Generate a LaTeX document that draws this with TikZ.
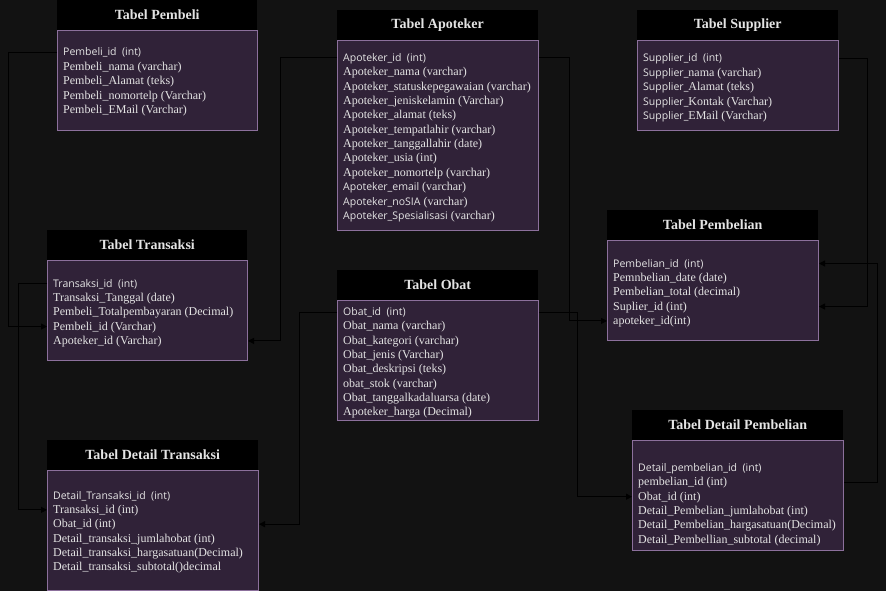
\documentclass[tikz,border=0pt]{standalone}
\usepackage{fontspec}
\setmainfont{Liberation Serif}
\newfontfamily\ssf{Open Sans}
\usetikzlibrary{arrows.meta}
\definecolor{bgc}{RGB}{18,18,18}
\definecolor{bodyfill}{RGB}{48,34,56}
\definecolor{bodyline}{RGB}{140,112,156}
\definecolor{txt}{RGB}{228,228,228}
\newcommand\sansp{\ssf\fontsize{10.5}{14}\selectfont}
\newcommand\serp{\rmfamily\fontsize{12}{14}\selectfont}
\tikzset{
  hdr/.style={fill=black, text=txt, anchor=north west, inner sep=0pt,
    font=\fontsize{14}{16}\selectfont\bfseries, minimum height=30pt},
  tbody/.style={fill=bodyfill, draw=bodyline, line width=1pt, anchor=north west, inner sep=0pt},
  rowtxt/.style={anchor=west, inner sep=0pt, text height=10pt, text depth=3pt,
    text=txt, font=\serp},
  conn/.style={draw=black, line width=1pt, -{Triangle[length=6pt,width=6pt]}}
}
\newcommand\tablerows[4]{%
  \foreach \t [count=\i] in {#4} {\node[rowtxt] (#1\i) at (#2, #3+1.5+\i*14.35-14.35) {\t};}%
}
\begin{document}
\begin{tikzpicture}[x=1pt,y=-1pt]
\useasboundingbox (0,0) rectangle (886,591);
\fill[bgc] (0,0) rectangle (886,591);

% Tabel Pembeli
\node[hdr, minimum width=200pt] (ph) at (57,0) {Tabel Pembeli};
\node[tbody, minimum width=200pt, minimum height=100pt] (pbody) at (57,30) {};
\tablerows{pb}{63}{51}{{\sansp Pembeli\_id\ \ (int)},
  Pembeli\_nama (varchar), Pembeli\_Alamat (teks), Pembeli\_nomortelp (Varchar), Pembeli\_EMail (Varchar)}

% Tabel Apoteker
\node[hdr, minimum width=201pt] (ah) at (337,10) {Tabel Apoteker};
\node[tbody, minimum width=201pt, minimum height=190pt] (abody) at (337,40) {};
\tablerows{ap}{343}{56.5}{{\sansp Apoteker\_id\ \ (int)},
  Apoteker\_nama (varchar), Apoteker\_statuskepegawaian (varchar), Apoteker\_jeniskelamin (Varchar),
  Apoteker\_alamat (teks), Apoteker\_tempatlahir (varchar), Apoteker\_tanggallahir (date),
  Apoteker\_usia (int), Apoteker\_nomortelp (varchar),
  {\sansp Apoteker\_email\serp\ (varchar)}, {\sansp Apoteker\_noSIA\serp\ (varchar)},
  {\sansp Apoteker\_Spesialisasi\serp\ (varchar)}}

% Tabel Supplier
\node[hdr, minimum width=201pt] (sh) at (637,10) {Tabel Supplier};
\node[tbody, minimum width=201pt, minimum height=90pt] (sbody) at (637,40) {};
\tablerows{su}{643}{57}{{\sansp Supplier\_id\ \ (int)},
  {\sansp Supplier\_\serp nama (varchar)}, {\sansp Supplier\_\serp Alamat (teks)},
  {\sansp Supplier\_\serp Kontak (Varchar)}, {\sansp Supplier\_\serp EMail (Varchar)}}

% Tabel Transaksi
\node[hdr, minimum width=200pt] (th) at (47,230) {Tabel Transaksi};
\node[tbody, minimum width=200pt, minimum height=100pt] (trbody) at (47,260) {};
\tablerows{tr}{53}{282}{{\sansp Transaksi\_id\ \ (int)},
  Transaksi\_Tanggal (date), Pembeli\_Totalpembayaran (Decimal), Pembeli\_id (Varchar), Apoteker\_id (Varchar)}

% Tabel Obat
\node[hdr, minimum width=201pt] (oh) at (337,270) {Tabel Obat};
\node[tbody, minimum width=201pt, minimum height=120pt] (obody) at (337,300) {};
\tablerows{ob}{343}{310.5}{{\sansp Obat\_id\ \ (int)},
  Obat\_nama (varchar), Obat\_kategori (varchar), Obat\_jenis (Varchar), Obat\_deskripsi (teks),
  obat\_stok (varchar), Obat\_tanggalkadaluarsa (date), Apoteker\_harga (Decimal)}

% Tabel Pembelian
\node[hdr, minimum width=211pt] (pmh) at (607,210) {Tabel Pembelian};
\node[tbody, minimum width=211pt, minimum height=100pt] (pmbody) at (607,240) {};
\tablerows{pm}{613}{262}{{\sansp Pembelian\_id\ \ (int)},
  Pemnbelian\_date (date), Pembelian\_total (decimal), Suplier\_id (int), apoteker\_id(int)}

% Tabel Detail Pembelian
\node[hdr, minimum width=211pt] (dph) at (632,410) {Tabel Detail Pembelian};
\node[tbody, minimum width=211pt, minimum height=110pt] (dpbody) at (632,440) {};
\tablerows{dp}{638}{466.5}{{\sansp Detail\_pembelian\_id\ \ (int)},
  pembelian\_id (int), Obat\_id (int), Detail\_Pembelian\_jumlahobat (int),
  Detail\_Pembelian\_hargasatuan(Decimal), Detail\_Pembellian\_subtotal (decimal)}

% Tabel Detail Transaksi
\node[hdr, minimum width=211pt] (dth) at (47,440) {Tabel Detail Transaksi};
\node[tbody, minimum width=211pt, minimum height=120pt] (dtbody) at (47,470) {};
\tablerows{dt}{53}{494}{{\sansp Detail\_Transaksi\_id\ \ (int)},
  Transaksi\_id (int), Obat\_id (int), Detail\_transaksi\_jumlahobat (int),
  Detail\_transaksi\_hargasatuan(Decimal), Detail\_transaksi\_subtotal()decimal}

% lanes
\coordinate (laneA) at (8,0);
\coordinate (laneB) at (280,0);
\coordinate (laneC) at (18,0);
\coordinate (laneD) at (299,0);
\coordinate (laneE) at (569,0);
\coordinate (laneF) at (577,0);
\coordinate (laneG) at (867,0);
\coordinate (laneH) at (877,0);

% connectors
\draw[conn] (pbody.west |- pb1) -- (pb1 -| laneA) |- (trbody.west |- tr4);
\draw[conn] (abody.west |- ap1) -- (ap1 -| laneB) |- (trbody.east |- tr5);
\draw[conn] (trbody.west |- tr1) -- (tr1 -| laneC) |- (dtbody.west |- dt2);
\draw[conn] (obody.west |- ob1) -- (ob1 -| laneD) |- (dtbody.east |- dt3);
\draw[conn] (abody.east |- ap1) -- (ap1 -| laneE) |- (pmbody.west |- pm5);
\draw[conn] (obody.east |- ob1) -- (ob1 -| laneF) |- (dpbody.west |- dp3);
\draw[conn] (sbody.east |- su1) -- (su1 -| laneG) |- (pmbody.east |- pm4);
\draw[conn] (dpbody.east |- dp2) -- (dp2 -| laneH) |- (pmbody.east |- pm1);
\end{tikzpicture}
\end{document}
